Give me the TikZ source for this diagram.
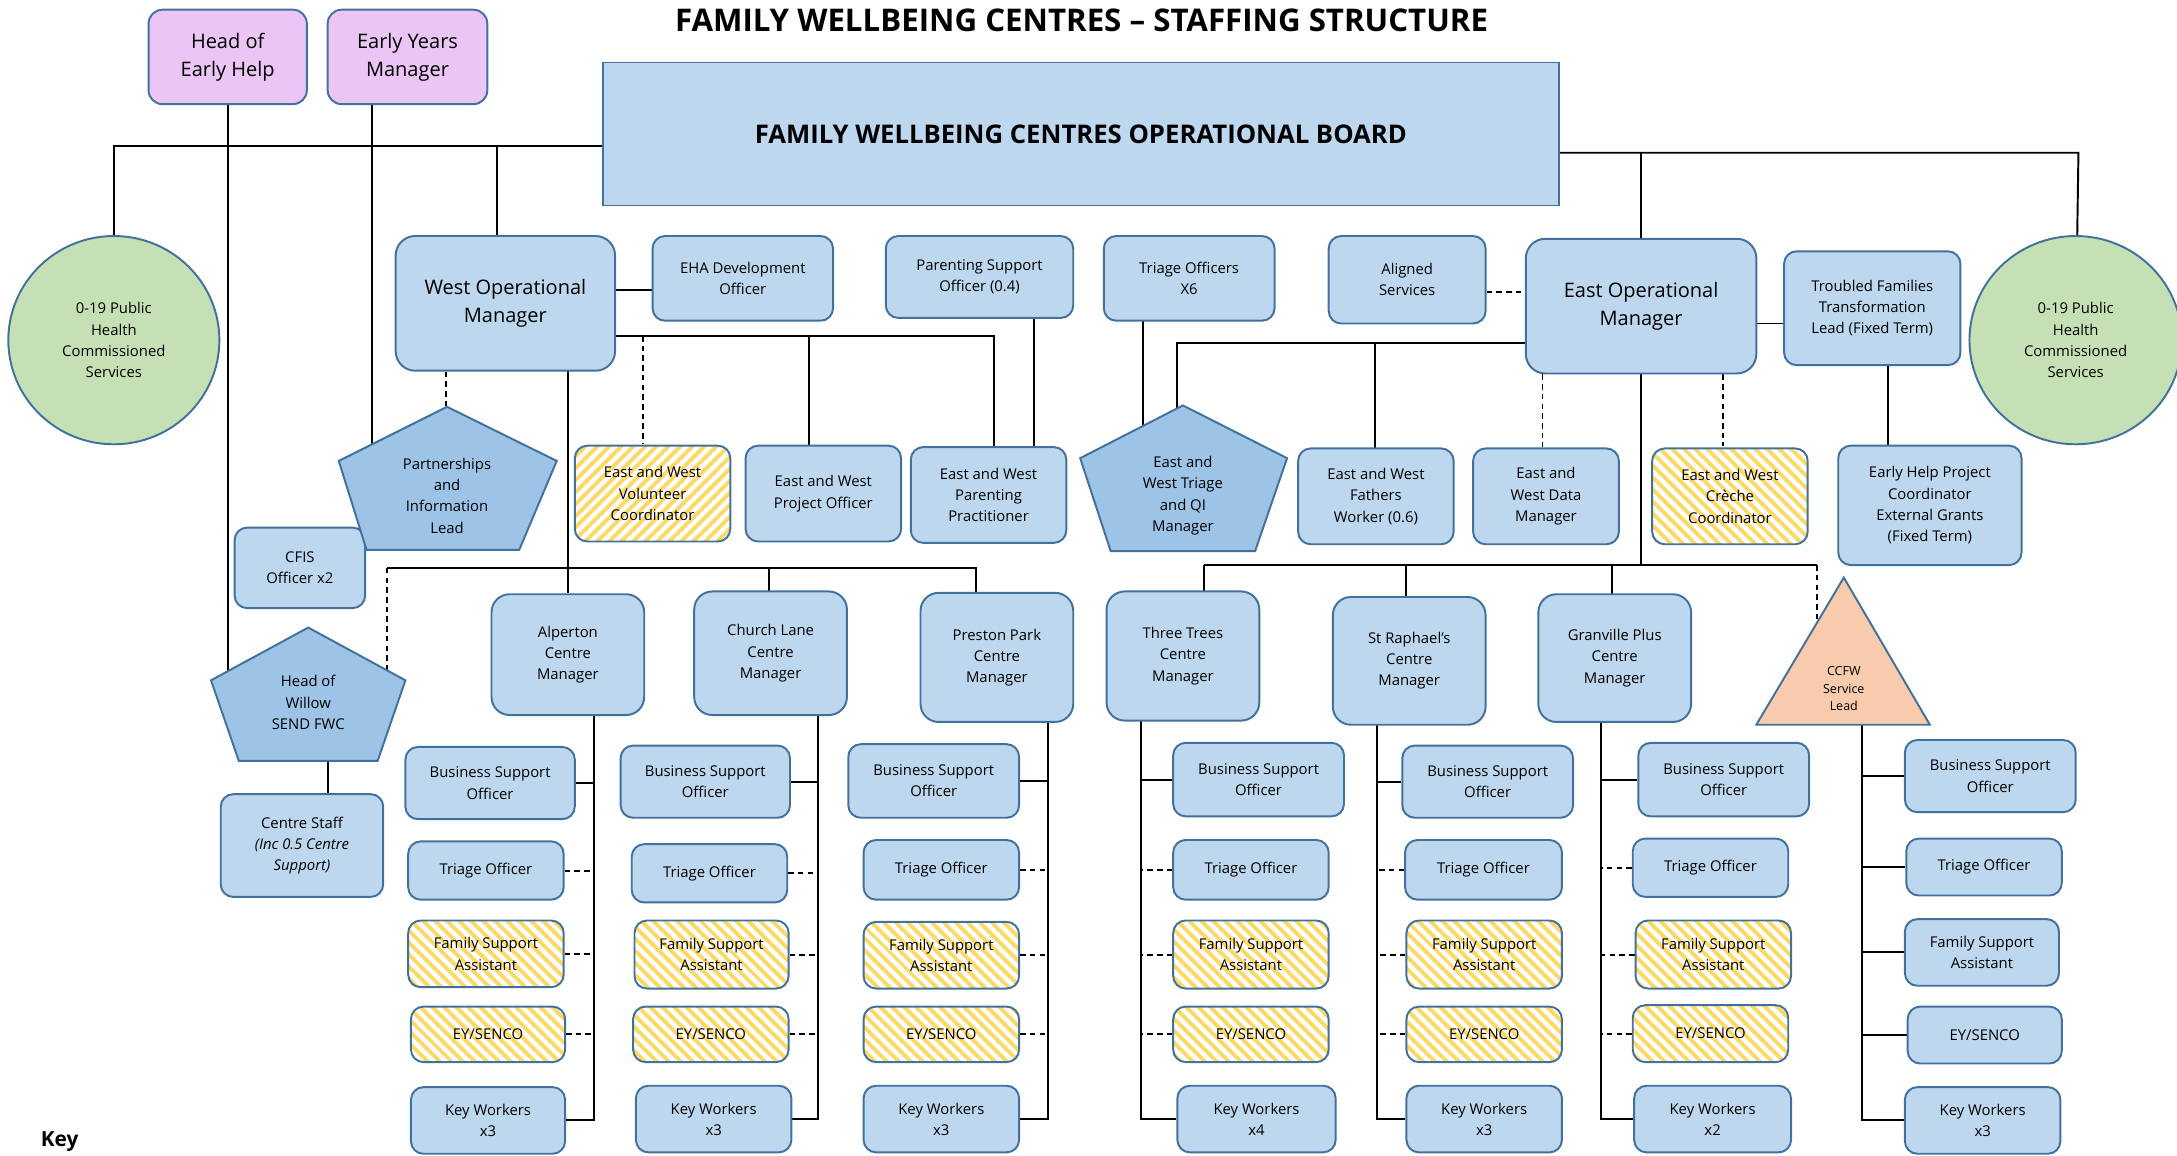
\documentclass[tikz,border=0pt]{standalone}
\usepackage{fontspec}
\setmainfont{Open Sans}
\usetikzlibrary{shapes.geometric,backgrounds,patterns.meta}
\definecolor{bc}{HTML}{41719C}
\definecolor{fb}{HTML}{BDD7EE}
\definecolor{pent}{HTML}{9DC3E6}
\definecolor{pinkc}{HTML}{EBC5F3}
\definecolor{grn}{HTML}{C5E0B4}
\definecolor{peach}{HTML}{F8CBAD}
\definecolor{yel}{HTML}{FFD966}
\newcommand{\fsS}{\fontsize{10.7}{15.3}\selectfont}
\newcommand{\fsM}{\fontsize{14.4}{20}\selectfont}
\newcommand{\mybox}[7]{\node[bx,minimum width={#4-#2},minimum height={#5-#3},#6] (#1) at ({(#2+#4)/2},{(#3+#5)/2}) {#7};}
\begin{document}
\begin{tikzpicture}[x=1pt,y=-1pt,
  bxbase/.style={draw=bc, line width=1.4pt, rounded corners=9pt, align=center, inner sep=1pt, font=\fsS},
  bx/.style={bxbase, fill=fb},
  big/.style={font=\fsM, rounded corners=14pt},
  mgr/.style={rounded corners=13pt},
  hatchL/.style={preaction={fill=white}, pattern={Lines[angle=-45,distance=6.5pt,line width=3pt]}, pattern color=yel},
  hatchR/.style={preaction={fill=white}, pattern={Lines[angle=45,distance=6.5pt,line width=3pt]}, pattern color=yel},
  poly/.style={draw=bc, line width=1.4pt, fill=pent, line join=miter},
  lbl/.style={align=center, font=\fsS, inner sep=0pt},
  ln/.style={line width=1.4pt, black},
  dsh/.style={line width=1.4pt, black, dash pattern=on 4pt off 3pt}
]
\useasboundingbox (0,0) rectangle (1568,832);
\clip (0,0) rectangle (1568,832);

% title
\node[font=\bfseries\fontsize{22.5}{26}\selectfont, inner sep=0pt] (title) at (779,15) {FAMILY WELLBEING CENTRES -- STAFFING STRUCTURE};

% top nodes
\mybox{hoeh}{107}{7}{221}{75}{fill=pinkc, big, rounded corners=10pt}{Head of\\Early Help}
\mybox{eym}{236}{7}{351}{75}{fill=pinkc, big, rounded corners=10pt}{Early Years\\Manager}
\node[draw=bc, fill=fb, line width=1.4pt, minimum width=689, minimum height=103, font=\bfseries\fontsize{18.5}{22}\selectfont] (board) at (778.5,96.5) {FAMILY WELLBEING CENTRES OPERATIONAL BOARD};
\node[ellipse, draw=bc, fill=grn, line width=1.4pt, minimum width=152, minimum height=150, align=center, font=\fsS] (lc) at (82,245) {0-19 Public\\Health\\Commissioned\\Services};
\node[ellipse, draw=bc, fill=grn, line width=1.4pt, minimum width=153, minimum height=150, align=center, font=\fsS] (rc) at (1495,245) {0-19 Public\\Health\\Commissioned\\Services};

\mybox{wom}{285}{170}{443}{267}{big}{West Operational\\Manager}
\mybox{eha}{470}{170}{600}{231}{}{EHA Development\\Officer}
\mybox{pso}{638}{170}{773}{229}{}{Parenting Support\\Officer (0.4)}
\mybox{tri6}{795}{170}{918}{231}{}{Triage Officers\\X6}
\mybox{asv}{957}{170}{1070}{233}{}{Aligned\\Services}
\mybox{eom}{1099}{172}{1265}{269}{big}{East Operational\\Manager}
\mybox{tft}{1285}{181}{1412}{263}{}{Troubled Families\\Transformation\\Lead (Fixed Term)}

% second row
\mybox{evc}{414}{321}{526}{390}{hatchR}{East and West\\Volunteer\\Coordinator}
\mybox{epo}{537}{321}{649}{390}{}{East and West\\Project Officer}
\mybox{epp}{656}{322}{768}{391}{}{East and West\\Parenting\\Practitioner}
\mybox{efw}{935}{323}{1047}{392}{}{East and West\\Fathers\\Worker (0.6)}
\mybox{edm}{1061}{323}{1166}{392}{}{East and\\West Data\\Manager}
\mybox{ecc}{1190}{323}{1302}{392}{hatchL}{East and West\\Cr\`eche\\Coordinator}
\mybox{ehp}{1324}{321}{1456}{407}{}{Early Help Project\\Coordinator\\External Grants\\(Fixed Term)}
\mybox{cfis}{169}{380}{263}{438}{}{CFIS\\Officer x2}
\mybox{cs}{159}{572}{276}{646}{}{Centre Staff\\\textit{(Inc 0.5 Centre}\\\textit{Support)}}

% pentagons
\path[poly] (322,293) -- (401,332) -- (374,396) -- (264,396) -- (244,332) -- cycle;
\node[lbl] (pil) at (322,357) {Partnerships\\and\\Information\\Lead};
\path[poly] (222,452) -- (292,490) -- (272,548) -- (172,548) -- (152,490) -- cycle;
\node[lbl] (how) at (222,506) {Head of\\Willow\\SEND FWC};
\path[poly] (852,292) -- (927,330) -- (904,397) -- (800,397) -- (778,330) -- cycle;
\node[lbl] (ewt) at (852,357) {East and\\West Triage\\and QI\\Manager};

% centre managers
\mybox{alp}{354}{428}{464}{515}{mgr}{Alperton\\Centre\\Manager}
\mybox{chl}{500}{426}{610}{515}{mgr}{Church Lane\\Centre\\Manager}
\mybox{ppk}{663}{427}{773}{520}{mgr}{Preston Park\\Centre\\Manager}
\mybox{thr}{797}{426}{907}{519}{mgr}{Three Trees\\Centre\\Manager}
\mybox{str}{960}{430}{1070}{522}{mgr}{St Raphael’s\\Centre\\Manager}
\mybox{gra}{1108}{428}{1218}{520}{mgr}{Granville Plus\\Centre\\Manager}
\path[draw=bc, line width=1.4pt, fill=peach, line join=miter] (1328,416) -- (1390,522) -- (1265,522) -- cycle;
\node[lbl, font=\fontsize{9}{12.5}\selectfont] (ccfw) at (1328,496) {CCFW\\Service\\Lead};
\coordinate (cfb) at (1341,510);
\coordinate (cft) at (1309,460);

% columns
\mybox{b1}{292}{538}{414}{590}{}{Business Support\\Officer}
\mybox{t1}{294}{606}{406}{648}{}{Triage Officer}
\mybox{f1}{294}{663}{406}{711}{hatchL}{Family Support\\Assistant}
\mybox{e1}{296}{725}{407}{765}{hatchL}{EY/SENCO}
\mybox{k1}{296}{783}{407}{831}{}{Key Workers\\x3}

\mybox{b2}{447}{537}{569}{589}{}{Business Support\\Officer}
\mybox{t2}{455}{608}{567}{650}{}{Triage Officer}
\mybox{f2}{457}{663}{568}{712}{hatchL}{Family Support\\Assistant}
\mybox{e2}{456}{725}{568}{765}{hatchL}{EY/SENCO}
\mybox{k2}{458}{782}{570}{830}{}{Key Workers\\x3}

\mybox{b3}{611}{536}{734}{589}{}{Business Support\\Officer}
\mybox{t3}{622}{605}{734}{648}{}{Triage Officer}
\mybox{f3}{622}{664}{734}{712}{hatchL}{Family Support\\Assistant}
\mybox{e3}{622}{725}{734}{765}{hatchL}{EY/SENCO}
\mybox{k3}{622}{782}{734}{830}{}{Key Workers\\x3}

\mybox{b4}{845}{535}{968}{588}{}{Business Support\\Officer}
\mybox{t4}{845}{605}{957}{648}{}{Triage Officer}
\mybox{f4}{845}{663}{957}{712}{hatchL}{Family Support\\Assistant}
\mybox{e4}{845}{725}{957}{765}{hatchL}{EY/SENCO}
\mybox{k4}{848}{782}{962}{830}{}{Key Workers\\x4}

\mybox{b5}{1010}{537}{1133}{589}{}{Business Support\\Officer}
\mybox{t5}{1012}{605}{1125}{648}{}{Triage Officer}
\mybox{f5}{1013}{663}{1125}{712}{hatchL}{Family Support\\Assistant}
\mybox{e5}{1013}{725}{1125}{765}{hatchL}{EY/SENCO}
\mybox{k5}{1013}{782}{1125}{830}{}{Key Workers\\x3}

\mybox{b6}{1180}{535}{1303}{588}{}{Business Support\\Officer}
\mybox{t6}{1176}{604}{1288}{646}{}{Triage Officer}
\mybox{f6}{1178}{663}{1290}{712}{hatchL}{Family Support\\Assistant}
\mybox{e6}{1176}{724}{1288}{765}{hatchL}{EY/SENCO}
\mybox{k6}{1177}{782}{1290}{830}{}{Key Workers\\x2}

\mybox{b7}{1372}{533}{1495}{585}{}{Business Support\\Officer}
\mybox{t7}{1373}{604}{1485}{645}{}{Triage Officer}
\mybox{f7}{1372}{662}{1483}{710}{}{Family Support\\Assistant}
\mybox{e7}{1374}{725}{1485}{766}{}{EY/SENCO}
\mybox{k7}{1372}{783}{1484}{831}{}{Key Workers\\x3}

\node[font=\bfseries\fontsize{15}{17}\selectfont, inner sep=0pt] (key) at (43,822) {Key};

% connectors
\begin{scope}[on background layer]
\coordinate (jL) at (82,105);
\draw[ln] (board.west |- jL) -- (jL) -- (lc);
\draw[ln] (hoeh) -- (hoeh |- how);
\draw[ln] (eym -| 268,0) -- (pil -| 268,0);
\draw[ln] (358,105) -- (wom -| 358,0);
\draw[ln] (wom |- 0,209) -- (eha |- 0,209);
\draw[ln] (wom |- 0,242) -- (716,242) -- (epp -| 716,0);
\draw[dsh] (463,242) -- (evc.north -| 463,0);
\draw[ln] (583,242) -- (epo -| 583,0);
\draw[ln] (pso -| 745,0) -- (epp -| 745,0);
\draw[dsh] (wom.south -| 321,0) -- (321,294);
\draw[ln] (wom -| alp) -- (alp);
\draw[ln] (cfis |- 0,393) -- (pil |- 0,393);
\draw[ln] (how -| 236,0) -- (cs -| 236,0);
\draw[dsh] (279,409) -- (279,485);
\draw[ln] (279,409) -- (703,409) -- (ppk -| 703,0);
\draw[ln] (554,409) -- (chl -| 554,0);
% right
\coordinate (jR) at (1497,110);
\draw[ln] (board.east |- jR) -- (jR) -- (rc);
\draw[ln] (eom |- jR) -- (eom);
\draw[ln] (tri6 -| 823,0) -- (ewt -| 823,0);
\draw[ln] (eom |- 0,247) -- (848,247) -- (ewt -| 848,0);
\draw[ln] (990,247) -- (efw -| 990,0);
\draw[dsh] (eom.south -| 1111,0) -- (edm.north -| 1111,0);
\draw[dsh] (eom.south -| 1241,0) -- (ecc.north -| 1241,0);
\draw[ln] (eom |- 0,233) -- (tft |- 0,233);
\draw[dsh] (asv.east |- 0,210) -- (eom.west |- 0,210);
\draw[ln] (tft -| 1360,0) -- (ehp -| 1360,0);
\draw[ln] (eom) -- (eom |- 0,407);
\draw[ln] (867,407) -- (1309,407);
\draw[ln] (867,407) -- (thr -| 867,0);
\draw[ln] (1013,407) -- (str -| 1013,0);
\draw[ln] (1161,407) -- (gra -| 1161,0);
\draw[dsh] (1309,407) -- (cft);
% columns
\draw[ln] (alp -| 428,0) |- (k1.east);
\draw[ln] (b1.east) -- (b1.east -| 428,0);
\draw[dsh] (t1.east) -- (t1.east -| 428,0);
\draw[dsh] (f1.east) -- (f1.east -| 428,0);
\draw[dsh] (e1.east) -- (e1.east -| 428,0);

\draw[ln] (chl -| 589,0) |- (k2.east);
\draw[ln] (b2.east) -- (b2.east -| 589,0);
\draw[dsh] (t2.east) -- (t2.east -| 589,0);
\draw[dsh] (f2.east) -- (f2.east -| 589,0);
\draw[dsh] (e2.east) -- (e2.east -| 589,0);

\draw[ln] (ppk -| 755,0) |- (k3.east);
\draw[ln] (b3.east) -- (b3.east -| 755,0);
\draw[dsh] (t3.east) -- (t3.east -| 755,0);
\draw[dsh] (f3.east) -- (f3.east -| 755,0);
\draw[dsh] (e3.east) -- (e3.east -| 755,0);

\draw[ln] (thr -| 822,0) |- (k4.west);
\draw[ln] (b4.west) -- (b4.west -| 822,0);
\draw[dsh] (t4.west) -- (t4.west -| 822,0);
\draw[dsh] (f4.west) -- (f4.west -| 822,0);
\draw[dsh] (e4.west) -- (e4.west -| 822,0);

\draw[ln] (str -| 992,0) |- (k5.west);
\draw[ln] (b5.west) -- (b5.west -| 992,0);
\draw[dsh] (t5.west) -- (t5.west -| 992,0);
\draw[dsh] (f5.west) -- (f5.west -| 992,0);
\draw[dsh] (e5.west) -- (e5.west -| 992,0);

\draw[ln] (gra -| 1153,0) |- (k6.west);
\draw[ln] (b6.west) -- (b6.west -| 1153,0);
\draw[dsh] (t6.west) -- (t6.west -| 1153,0);
\draw[dsh] (f6.west) -- (f6.west -| 1153,0);
\draw[dsh] (e6.west) -- (e6.west -| 1153,0);

\draw[ln] (cfb) |- (k7.west);
\draw[ln] (b7.west) -- (b7.west -| cfb);
\draw[ln] (t7.west) -- (t7.west -| cfb);
\draw[ln] (f7.west) -- (f7.west -| cfb);
\draw[ln] (e7.west) -- (e7.west -| cfb);
\end{scope}
\end{tikzpicture}
\end{document}
